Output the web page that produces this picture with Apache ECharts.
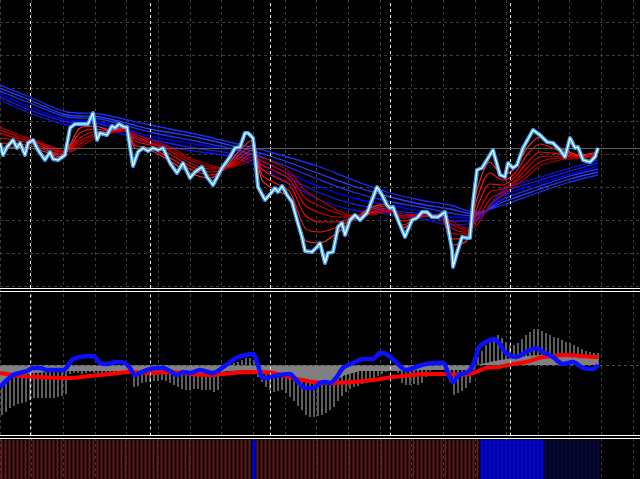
<!DOCTYPE html>
<html>
<head>
<meta charset="utf-8">
<script src="https://cdn.jsdelivr.net/npm/echarts@6/dist/echarts.min.js"></script>
<style>
html,body{margin:0;padding:0;background:#000;}
#chart{width:640px;height:479px;}
</style>
</head>
<body>
<div id="chart"></div>
<script>
// ---------------- DATA (time unit = chart time, 4 units per bar) ----------------
// Price (close) line vertices
const priceT = [0,3,7,13,17,20,25,28,33,38,45,50,53,58,65,70,75,88,93,97,100,107,112,115,119,124,127,130,133,138,143,148,153,158,163,170,177,183,190,195,202,207,213,222,230,235,240,245,248,253,255,258,265,272,275,278,282,287,292,297,302,305,312,317,320,325,328,333,338,342,345,350,355,360,367,372,377,382,387,390,393,398,405,412,417,422,427,432,438,445,448,452,453,457,462,467,470,473,477,482,493,500,505,508,513,517,523,533,540,547,553,560,565,570,575,578,583,590,595,598];
const priceV = [145,133,141,148,140,145,133,145,148,138,128,136,129,128,133,160,164,164,175,148,155,153,162,160,164,161,161,141,122,136,140,137,140,138,140,125,115,125,110,116,121,111,103,120,131,140,141,155,155,150,133,101,88,96,100,96,102,93,86,68,51,37,36,41,45,25,35,36,61,65,53,68,73,68,75,88,101,93,83,80,81,68,51,68,70,76,76,71,71,76,61,38,21,35,51,50,50,85,118,120,138,113,111,125,120,123,140,158,153,146,145,138,131,150,140,141,128,126,131,140];

// Long-term (blue) moving averages, fastest to slowest
const blueMAT = [0,30,67,100,150,200,233,270,320,353,387,420,450,475,503,537,570,598];
const blueMA1 = [188,175,163,161,145,136,131,115,88,78,74,70,63,66,98,110,120,128];
const blueMA2 = [191,178,166,164,149,139,134,119,95,84,78,74,67,68,95,107,117,125];
const blueMA3 = [194,181,168,166,152,143,137,123,101,90,83,77,71,70,92,104,114,122];
const blueMA4 = [197,185,171,169,156,146,139,128,108,96,87,81,75,72,89,101,112,119];
const blueMA5 = [200,188,173,171,159,150,142,132,114,102,92,84,79,74,86,98,109,116];
const blueMA6 = [203,191,176,174,163,153,145,136,121,108,96,88,83,76,83,95,106,113];

// Short-term (red) moving averages, fastest to slowest
const redMAT = [0,20,40,60,70,80,95,110,125,135,150,170,190,210,225,240,252,262,275,290,305,320,337,353,370,387,403,420,440,453,467,477,490,503,515,527,540,560,580,598];
const redMA1 = [140,141,138,131,143,160,162,158,161,140,138,127,115,110,120,138,148,108,98,90,48,45,55,68,80,84,60,71,73,43,48,98,126,113,120,140,151,140,133,136];
const redMA2 = [145,144,140,133,141,155,159,157,160,143,140,130,119,113,119,134,143,113,105,96,60,56,61,69,78,82,63,71,73,49,51,89,115,108,115,133,144,137,132,135];
const redMA3 = [150,147,142,134,139,150,156,156,159,147,143,134,122,116,119,130,138,119,111,103,73,66,66,70,76,80,67,72,73,54,54,80,104,103,111,125,136,134,131,133];
const redMA4 = [155,149,144,136,138,147,154,156,158,150,145,137,125,119,120,127,134,123,117,108,83,75,71,71,75,78,70,72,72,59,56,73,96,99,107,120,131,132,131,132];
const redMA5 = [158,151,145,137,137,144,152,155,158,152,146,139,128,121,120,125,131,127,121,112,90,82,75,72,74,77,72,73,72,63,58,68,89,96,105,115,126,130,130,132];
const redMA6 = [161,153,146,138,136,141,150,155,157,154,148,141,130,123,120,123,128,130,125,116,98,88,78,73,73,76,74,73,72,66,60,63,83,93,102,111,122,128,130,131];

// Day separators (time)
const daySeparators = [30,150,270,390,510];

// Oscillator pane: histogram per bar (150 bars)
const histValues = [-50,-47,-43,-41,-39,-38,-37,-35,-33,-33,-33,-33,-33,-33,-32,-31,-29,
 -9,
 -8,-8,-9,-8,-7,-8,-9,-9,-8,-8,-7,-8,-8,-9,-9,
 -22,-21,-18,-17,-17,-16,-16,-15,-16,-18,-20,-22,-24,-25,-25,-24,-24,-25,-25,-25,-27,-25,
 -10,-3,1,2,3,5,7,7,5,
 -12,-17,-22,-25,-27,-26,-25,-28,-32,-36,-41,-45,-50,-52,-52,-51,-50,-48,-45,-42,-36,-31,-27,-24,-22,-21,-19,-17,-15,-13,-11,-9,-7,-4,-3,
 -8,-18,-20,-20,-19,-20,-18,-12,-6,-5,-5,-5,-7,-17,-30,-28,-26,-23,-18,-5,
 8,14,20,25,28,30,27,23,20,20,22,26,30,33,36,36,34,32,30,28,27,25,23,22,20,18,16,14,13,12,12];

// Oscillator grey fill
const greyT = [0,7,13,20,33,50,67,100,130,135,150,177,213,230,253,263,280,293,313,333,345,360,393,426,470,476,490,500,513,526,540,566,598];
const greyV = [-22,-16,-12,-10,-8,-7,-6,-6,-6,-8,-7,-8,-8,-6,-5,-8,-10,-13,-17,-17,-10,-6,-6,-5,-5,0,3,5,7,9,10,9,7];

// Oscillator red signal line
const oscRedT = [0,20,40,60,70,90,110,130,150,170,190,213,233,253,273,293,313,333,353,373,393,413,426,446,459,473,486,499,513,526,539,553,566,579,593,598];
const oscRedV = [-8,-11,-12,-13,-13,-11,-9,-7,-8,-7,-9,-10,-8,-7,-8,-13,-17,-18,-17,-15,-12,-10,-9,-9,-10,-8,-3,-2,1,3,7,9,10,9,8,8];

// Oscillator blue line
const oscBlueT = [0,7,13,20,27,33,40,47,57,63,67,72,80,90,95,100,107,117,125,130,135,140,150,163,170,177,183,190,200,213,226,236,246,253,258,263,271,280,290,296,306,313,320,325,330,336,343,353,363,373,380,386,396,406,416,426,443,448,453,459,468,474,479,486,494,499,506,516,526,536,543,553,563,573,583,593,598];
const oscBlueV = [-22,-15,-10,-8,-6,-3,-3,-5,-5,-5,-2,5,8,9,8,2,1,3,2,-3,-10,-8,-4,-3,-6,-10,-7,-8,-5,-8,0,7,10,11,0,-13,-12,-10,-9,-15,-23,-23,-18,-17,-18,-13,-3,2,6,6,12,11,3,-5,-2,1,2,-8,-17,-10,-7,2,18,23,26,22,12,8,13,17,13,8,1,3,-3,-4,0];

// Bottom signal pane: runs of [state, barCount]; 0 = sell (dark red), 1 = buy (blue), 2 = weak (navy)
const signalRuns = [[0,63],[1,1],[0,56],[1,16],[2,14]];

// ---------------- CHART ----------------
const barTime = i => 4 * i + 2;
const pair = (xs, ys) => xs.map((x, i) => [x, ys[i]]);

const blueMAs = [blueMA1, blueMA2, blueMA3, blueMA4, blueMA5, blueMA6];
const blueColors = ['#1010e0', '#1818f0', '#0000ff', '#2030ff', '#2a40ff', '#1a2cff'];
const redMAs = [redMA1, redMA2, redMA3, redMA4, redMA5, redMA6];
const redColors = ['#ff2a2a', '#ff1010', '#ee0808', '#d80000', '#c40000', '#b00000'];

const signalStates = [];
signalRuns.forEach(([s, n]) => { for (let k = 0; k < n; k++) signalStates.push(s); });
const signalStyles = [
  {color: '#6a1c1c'},
  {color: '#0000f0'},
  {color: '#06063a'}
];
const signalWidths = [2, 3, 3];

const series = [];

blueMAs.forEach((arr, k) => {
  const s = {
    type: 'line', xAxisIndex: 0, yAxisIndex: 0, data: pair(blueMAT, arr),
    smooth: 0.3, symbol: 'none', z: 3, silent: true,
    lineStyle: {color: blueColors[k], width: 1.3}
  };
  if (k === 0) {
    s.markLine = {
      silent: true, symbol: 'none', label: {show: false},
      data: daySeparators.map(t => ({xAxis: t, lineStyle: {color: '#e8e8e8', type: [3, 3], width: 1}}))
        .concat([{yAxis: priceV[priceV.length - 1], lineStyle: {color: '#5c5c5c', type: 'solid', width: 1}}])
    };
  }
  series.push(s);
});

redMAs.forEach((arr, k) => {
  series.push({
    type: 'line', xAxisIndex: 0, yAxisIndex: 0, data: pair(redMAT, arr),
    smooth: 0.3, symbol: 'none', z: 4, silent: true,
    lineStyle: {color: redColors[k], width: 1.2}
  });
});

series.push({
  type: 'line', xAxisIndex: 0, yAxisIndex: 0, data: pair(priceT, priceV),
  symbol: 'none', z: 5, silent: true,
  lineStyle: {color: '#45a8f2', width: 4, join: 'round'}
});
series.push({
  type: 'line', xAxisIndex: 0, yAxisIndex: 0, data: pair(priceT, priceV),
  symbol: 'none', z: 6, silent: true,
  lineStyle: {color: '#ffffff', width: 1.2}
});

// Oscillator pane
series.push({
  type: 'bar', xAxisIndex: 1, yAxisIndex: 1,
  data: histValues.map((v, i) => [barTime(i), v]),
  barWidth: 2, z: 2, silent: true,
  itemStyle: {color: '#5e5e5e'},
  markLine: {
    silent: true, symbol: 'none', label: {show: false},
    data: daySeparators.map(t => ({xAxis: t, lineStyle: {color: '#e8e8e8', type: [3, 3], width: 1}}))
      .concat([{yAxis: 0, lineStyle: {color: '#4a4a4a', type: [3, 3], width: 1}}])
  }
});
series.push({
  type: 'line', xAxisIndex: 1, yAxisIndex: 1, data: pair(greyT, greyV),
  symbol: 'none', z: 3, silent: true,
  lineStyle: {width: 0, color: '#808080'},
  areaStyle: {color: '#808080', opacity: 1, origin: 0}
});
series.push({
  type: 'line', xAxisIndex: 1, yAxisIndex: 1, data: pair(oscRedT, oscRedV),
  smooth: 0.3, symbol: 'none', z: 4, silent: true,
  lineStyle: {color: '#ff0000', width: 4}
});
series.push({
  type: 'line', xAxisIndex: 1, yAxisIndex: 1, data: pair(oscBlueT, oscBlueV),
  smooth: 0.3, symbol: 'none', z: 5, silent: true,
  lineStyle: {color: '#0a10ff', width: 4.5}
});

// Signal pane: one bar series per state, all bars full height
[0, 1, 2].forEach(state => {
  series.push({
    type: 'bar', xAxisIndex: 3, yAxisIndex: 2,
    data: signalStates.map((s, i) => s === state ? [barTime(i), 1] : null).filter(d => d),
    barWidth: signalWidths[state], barGap: '-100%', z: 2, silent: true,
    itemStyle: signalStyles[state]
  });
});

const hiddenX = (grid, pos) => ({
  type: 'value', gridIndex: grid, min: 0, max: 640, position: pos,
  axisLine: {show: true, onZero: false, lineStyle: {color: '#ffffff', width: 1}},
  axisTick: {show: false}, axisLabel: {show: false}, splitLine: {show: false}
});

const option = {
  backgroundColor: '#000000',
  animation: false,
  grid: [
    {left: 0, right: 0, top: 0, height: 288},
    {left: 0, right: 0, top: 291, height: 144.5},
    {left: 0, right: 0, top: 438, height: 41},
    {left: 0, right: 0, top: 22.7, height: 264},
    {left: -7, width: 640, top: 0, height: 479}
  ],
  xAxis: [
    hiddenX(0, 'bottom'),
    hiddenX(1, 'top'),
    hiddenX(1, 'bottom'),
    hiddenX(2, 'top'),
    {type: 'value', gridIndex: 3, min: 0, max: 640, show: false},
    {type: 'value', gridIndex: 4, min: 0, max: 640, interval: 32,
      axisLine: {show: false}, axisTick: {show: false}, axisLabel: {show: false},
      splitLine: {show: true, lineStyle: {color: '#3c3c3c', type: [3, 3], width: 1}}}
  ],
  yAxis: [
    {type: 'value', gridIndex: 0, min: 0, max: 288, show: false},
    {type: 'value', gridIndex: 1, min: -70.5, max: 74, show: false},
    {type: 'value', gridIndex: 2, min: 0, max: 1.04, show: false},
    {type: 'value', gridIndex: 3, min: 0, max: 264, interval: 33,
      axisLine: {show: false}, axisTick: {show: false}, axisLabel: {show: false},
      splitLine: {show: true, lineStyle: {color: '#3c3c3c', type: [3, 3], width: 1}}},
    {type: 'value', gridIndex: 4, min: 0, max: 1, show: false}
  ],
  series: series
};

const chart = echarts.init(document.getElementById('chart'));
chart.setOption(option);
</script>
</body>
</html>
